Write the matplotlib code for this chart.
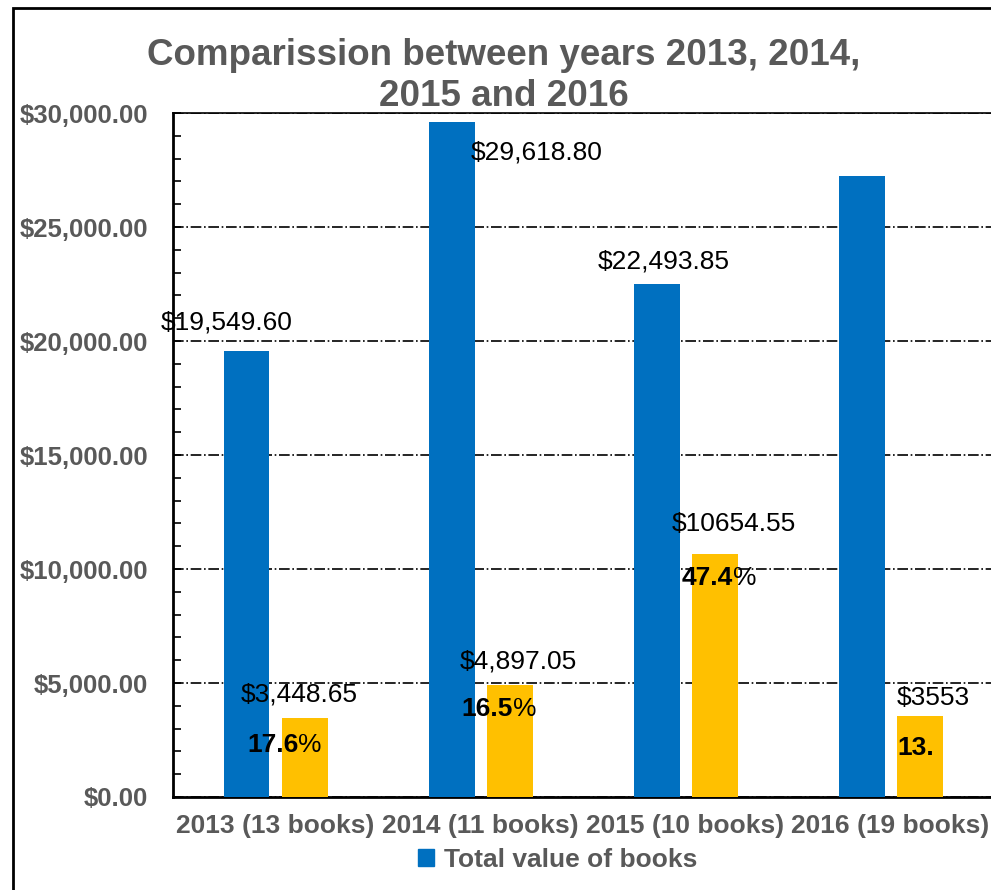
# comparison of book values per year, blue = total, yellow = part
import numpy as np
import matplotlib
matplotlib.use("Agg")
import matplotlib.pyplot as plt
from matplotlib.patches import Patch, Rectangle
from matplotlib.ticker import MultipleLocator, FuncFormatter

plt.rcParams['font.family'] = ['Liberation Sans', 'DejaVu Sans']

categories = ["2013 (13 books)", "2014 (11 books)", "2015 (10 books)", "2016 (19 books)"]
total_value = [19549.60, 29618.80, 22493.85, 27250.0]
part_value = [3448.65, 4897.05, 10654.55, 3553.0]
total_labels = ["$19,549.60", "$29,618.80", "$22,493.85", ""]
part_labels = ["$3,448.65", "$4,897.05", "$10654.55", "$3553"]
pct_labels = ["17.6", "16.5", "47.4", "13."]
pct_suffix = ["%", "%", "%", ""]

# label offsets from the bar top, in points (dx, dy)
total_off = [(-14, 21), (61, -22), (5, 16), (0, 0)]
part_off = [(-4, 17), (6, 17), (14, 22), (10, 13)]
pct_off = [(-23, -19), (-16, -17), (-5, -17), (-3, -23)]

grey = '#595959'
blue = '#0070C0'
yellow = '#FFC000'
fs = 19

fig = plt.figure(figsize=(9.91, 8.90), dpi=100)
ax = fig.add_axes([0.1746, 0.1045, 0.8275, 0.7685])

x = np.arange(len(categories))
w = 0.224
off = 0.1415
b1 = ax.bar(x - off, total_value, w, color=blue, zorder=3)
b2 = ax.bar(x + off, part_value, w, color=yellow, zorder=3)

ax.set_xlim(-0.5, 3.5)
ax.set_ylim(0, 30000)
ax.yaxis.set_major_locator(MultipleLocator(5000))
ax.yaxis.set_minor_locator(MultipleLocator(1000))
ax.yaxis.set_major_formatter(FuncFormatter(lambda v, p: "${:,.2f}".format(v)))
ax.grid(axis='y', which='major', color='black', linestyle='-.', linewidth=1.2, zorder=1)

ax.set_xticks(x)
ax.set_xticklabels(categories)
ax.tick_params(axis='x', length=0, pad=12)
ax.tick_params(axis='y', which='both', direction='in', length=6, width=1.2, pad=18)
for lab in ax.get_xticklabels():
    lab.set_fontsize(fs)
    lab.set_fontweight('bold')
    lab.set_color(grey)
for lab in ax.get_yticklabels():
    lab.set_fontsize(18.5)
    lab.set_fontweight('bold')
    lab.set_color(grey)

for s in ['left', 'bottom', 'top']:
    ax.spines[s].set_linewidth(2)
ax.spines['top'].set_linewidth(1.2)
ax.spines['right'].set_visible(False)

for i in range(len(categories)):
    if total_labels[i]:
        ax.annotate(total_labels[i], (x[i] - off, total_value[i]),
                    xytext=total_off[i], textcoords='offset points',
                    ha='center', va='center', fontsize=fs, zorder=5)
    ax.annotate(part_labels[i], (x[i] + off, part_value[i]),
                xytext=part_off[i], textcoords='offset points',
                ha='center', va='center', fontsize=fs, zorder=5)
    t = ax.annotate(pct_labels[i], (x[i] + off, part_value[i]),
                    xytext=pct_off[i], textcoords='offset points',
                    ha='center', va='center', fontsize=fs, fontweight='bold', zorder=5)
    if pct_suffix[i]:
        ax.annotate(pct_suffix[i], xy=(1, 0), xycoords=t, ha='left', va='bottom',
                    fontsize=fs, zorder=5)

fig.text(0.508, 0.915, "Comparission between years 2013, 2014,\n2015 and 2016",
         ha='center', va='center', fontsize=26.5, fontweight='bold', color=grey,
         linespacing=1.22)

fig.legend(handles=[Patch(color=blue)], labels=["Total value of books"],
           loc='center', bbox_to_anchor=(0.563, 0.034), frameon=False,
           handlelength=0.6, handleheight=0.6, handletextpad=0.4,
           prop={'size': fs, 'weight': 'bold'}, labelcolor=grey)

fig.patches.append(Rectangle((13 / 991, -0.1), 1.2, 1.1 - 8 / 890,
                             transform=fig.transFigure, fill=False,
                             edgecolor='black', linewidth=2))

fig.savefig("out.png", dpi=100)
